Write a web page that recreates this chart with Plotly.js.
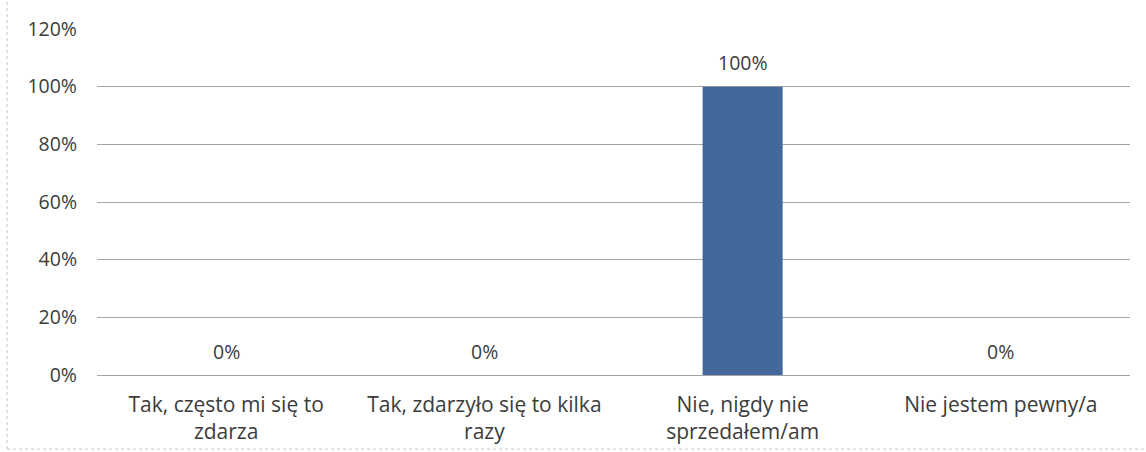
<!DOCTYPE html>
<html>
<head>
<meta charset="utf-8">
<script src="https://cdn.plot.ly/plotly-3.0.1.min.js"></script>
<style>html,body{margin:0;padding:0;background:#fff;}#chart{width:1146px;height:452px;}</style>
</head>
<body>
<div id="chart"></div>
<script>
const categories = ["Tak, często mi się to<br>zdarza", "Tak, zdarzyło się to kilka<br>razy", "Nie, nigdy nie<br>sprzedałem/am", "Nie jestem pewny/a"];
const values = [0, 0, 1, 0];
const valueLabels = ["0%", "0%", "100%", "0%"];
const yTickVals = [0, 0.2, 0.4, 0.6, 0.8, 1.0, 1.2];
const yTickText = ["0%", "20%", "40%", "60%", "80%", "100%", "120%"];

const textColor = "#3c3c3c";

const trace = {
  type: "bar",
  x: categories,
  y: values,
  marker: {color: "#42699a"},
  width: 0.31,
  hoverinfo: "none"
};

const annotations = categories.map((c, i) => ({
  x: c, y: values[i], xref: "x", yref: "y",
  text: valueLabels[i], showarrow: false,
  xanchor: "center", yanchor: "middle", yshift: 24,
  font: {family: "Open Sans, sans-serif", size: 19.5, color: textColor}
}));

const layout = {
  width: 1146, height: 452,
  margin: {l: 97, r: 16, t: 29, b: 77},
  paper_bgcolor: "#fff", plot_bgcolor: "#fff",
  showlegend: false,
  font: {family: "Open Sans, sans-serif", size: 19.5, color: textColor},
  xaxis: {
    showgrid: false, zeroline: false, showline: false,
    ticks: "", ticklabelstandoff: 15,
    tickfont: {size: 21, color: textColor}
  },
  yaxis: {
    range: [0, 1.2], tickvals: yTickVals, ticktext: yTickText,
    showgrid: true, gridcolor: "#a4a4a4", gridwidth: 1,
    zeroline: true, zerolinecolor: "#a4a4a4", zerolinewidth: 1,
    showline: false, ticks: "", ticklabelstandoff: 19,
    tickfont: {size: 19.5, color: textColor}
  },
  annotations: annotations,
  shapes: [
    {type: "line", xref: "paper", yref: "paper", x0: -0.087, x1: -0.087, y0: -0.214, y1: 1.1,
     line: {color: "#c4c4c4", width: 1, dash: "dot"}},
    {type: "line", xref: "paper", yref: "paper", x0: -0.087, x1: 1.015, y0: -0.214, y1: -0.214,
     line: {color: "#c4c4c4", width: 1, dash: "dot"}}
  ]
};

Plotly.newPlot("chart", [trace], layout, {displayModeBar: false, staticPlot: true});
</script>
</body>
</html>
